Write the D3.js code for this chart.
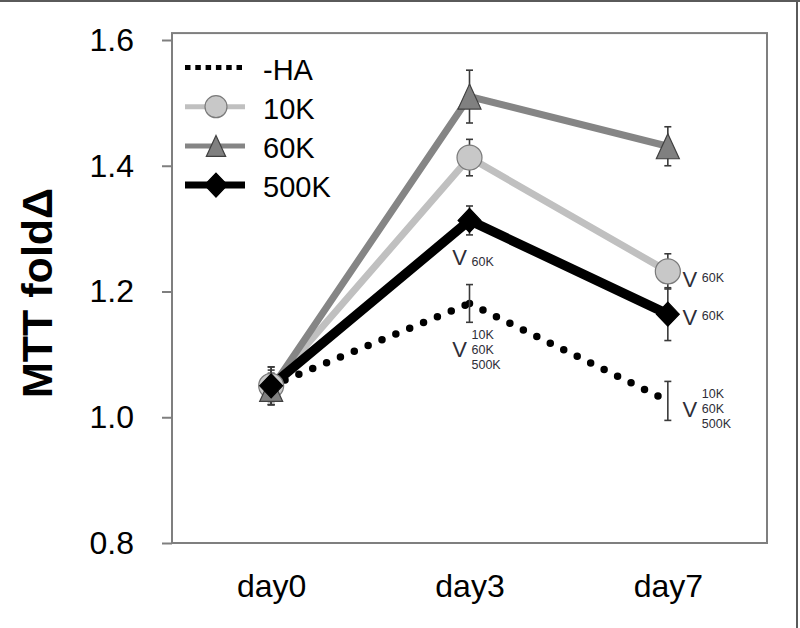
<!DOCTYPE html>
<html>
<head>
<meta charset="utf-8">
<script src="https://cdn.jsdelivr.net/npm/d3@7"></script>
<style>
  html, body { margin: 0; padding: 0; background: #fff; }
  svg { display: block; font-family: "Liberation Sans", Arial, sans-serif; }
</style>
</head>
<body>
<svg id="chart" width="800" height="628"></svg>
<script>
// ---------------- data ----------------
const days = ["day0", "day3", "day7"];
const yTicks = [0.8, 1.0, 1.2, 1.4, 1.6];
const seriesNames = ["-HA", "10K", "60K", "500K"];

const haValues   = [1.050, 1.181, 1.026];
const haErr      = [0.030, 0.030, 0.031];
const k10Values  = [1.050, 1.413, 1.232];
const k10Err     = [0.025, 0.029, 0.028];
const k60Values  = [1.045, 1.510, 1.431];
const k60Err     = [0.025, 0.042, 0.031];
const k500Values = [1.050, 1.313, 1.164];
const k500Err    = [0.030, 0.023, 0.042];

// significance annotations: "V" followed by group labels
const annotations = [
  { day: "day3", series: "500K", labels: ["60K"] },
  { day: "day3", series: "-HA",  labels: ["10K", "60K", "500K"] },
  { day: "day7", series: "10K",  labels: ["60K"] },
  { day: "day7", series: "500K", labels: ["60K"] },
  { day: "day7", series: "-HA",  labels: ["10K", "60K", "500K"] }
];

// ---------------- build series ----------------
const valuesBy = { "-HA": haValues, "10K": k10Values, "60K": k60Values, "500K": k500Values };
const errBy    = { "-HA": haErr,    "10K": k10Err,    "60K": k60Err,    "500K": k500Err };
const series = seriesNames.map(name => ({
  name,
  points: days.map((d, i) => ({ day: d, value: valuesBy[name][i], err: errBy[name][i] }))
}));

// ---------------- styles ----------------
const style = {
  "-HA":  { line: "#000", width: 7.5, dotted: true },
  "10K":  { line: "#c0c0c0", width: 7, marker: "circle", fill: "#c8c8c8", stroke: "#7a7a7a" },
  "60K":  { line: "#858585", width: 7, marker: "triangle", fill: "#808080", stroke: "#404040" },
  "500K": { line: "#000", width: 9.5, marker: "diamond", fill: "#000", stroke: "#000" }
};

const svg = d3.select("#chart");
const W = 800, H = 628;

const x = d3.scalePoint().domain(days).range([172, 767]).padding(0.5);
const y = d3.scaleLinear().domain([0.8, 1.6]).range([543, 40]);

// outer border (top & right)
svg.append("line").attr("x1", 0).attr("x2", W).attr("y1", 1).attr("y2", 1)
  .attr("stroke", "#5a5a5a").attr("stroke-width", 2);
svg.append("line").attr("x1", 797).attr("x2", 797).attr("y1", 0).attr("y2", H)
  .attr("stroke", "#5a5a5a").attr("stroke-width", 2);

// plot frame
const [xl, xr] = x.range();
svg.append("rect")
  .attr("x", xl).attr("y", y(1.611))
  .attr("width", xr - xl).attr("height", y(0.8) - y(1.611))
  .attr("fill", "none").attr("stroke", "#7f7f7f").attr("stroke-width", 2);

// y axis
const yAxis = svg.append("g")
  .attr("transform", `translate(${xl},0)`)
  .call(d3.axisLeft(y).tickValues(yTicks).tickSize(10).tickPadding(28).tickFormat(d3.format(".1f")));
yAxis.select(".domain").remove();
yAxis.selectAll(".tick line").attr("stroke", "#7f7f7f").attr("stroke-width", 2);
yAxis.selectAll(".tick text").attr("font-size", 32).attr("fill", "#000")
  .attr("font-family", "'Liberation Sans', Arial, sans-serif");

// x axis
const xAxis = svg.append("g")
  .attr("transform", `translate(0,${y(0.8)})`)
  .call(d3.axisBottom(x).tickSize(0).tickPadding(31));
xAxis.select(".domain").remove();
xAxis.selectAll(".tick text").attr("font-size", 32).attr("fill", "#000")
  .attr("font-family", "'Liberation Sans', Arial, sans-serif");

// y title
svg.append("text")
  .attr("transform", "translate(52,293) rotate(-90)")
  .attr("text-anchor", "middle")
  .attr("font-size", 43).attr("font-weight", "bold").attr("fill", "#000")
  .text("MTT fold\u0394");

// marker paths
function markerPath(type, s) {
  if (type === "circle") {
    return d3.symbol().type(d3.symbolCircle).size(Math.PI * s * s)();
  }
  if (type === "triangle") {
    const hw = s * 0.92, hh = s;
    return `M0,${-hh}L${hw},${hh}L${-hw},${hh}Z`;
  }
  if (type === "diamond") {
    const hw = s * 0.95, hh = s;
    return `M0,${-hh}L${hw},0L0,${hh}L${-hw},0Z`;
  }
}
const markerSize = { circle: 12.5, triangle: 12.5, diamond: 12 };

const line = d3.line().x(d => x(d.day)).y(d => y(d.value));
const plot = svg.append("g");

// lines
series.forEach(s => {
  const st = style[s.name];
  if (st.dotted) {
    // draw each segment separately so a dot sits on every data point
    d3.pairs(s.points).forEach(pair => {
      plot.append("path").attr("d", line(pair))
        .attr("fill", "none").attr("stroke", st.line).attr("stroke-width", st.width)
        .attr("stroke-linecap", "round").attr("stroke-dasharray", "0,15");
    });
  } else {
    plot.append("path").attr("d", line(s.points))
      .attr("fill", "none").attr("stroke", st.line).attr("stroke-width", st.width)
      .attr("stroke-linejoin", "miter");
  }
});

// error bars
series.forEach(s => {
  s.points.forEach(p => {
    const cx = x(p.day), y1 = y(p.value + p.err), y2 = y(p.value - p.err);
    const g = plot.append("g").attr("stroke", "#3a3a3a").attr("stroke-width", 1.6);
    g.append("line").attr("x1", cx).attr("x2", cx).attr("y1", y1).attr("y2", y2);
    g.append("line").attr("x1", cx - 3.5).attr("x2", cx + 3.5).attr("y1", y1).attr("y2", y1);
    g.append("line").attr("x1", cx - 3.5).attr("x2", cx + 3.5).attr("y1", y2).attr("y2", y2);
  });
});

// markers
series.forEach(s => {
  const st = style[s.name];
  if (!st.marker) return;
  s.points.forEach(p => {
    plot.append("path")
      .attr("d", markerPath(st.marker, markerSize[st.marker]))
      .attr("transform", `translate(${x(p.day)},${y(p.value)})`)
      .attr("fill", st.fill).attr("stroke", st.stroke).attr("stroke-width", 1.2);
  });
});

// annotations
const annColor = "#2e2e38";
function placeAnnotation(a) {
  const s = series.find(d => d.name === a.series);
  const p = s.points.find(d => d.day === a.day);
  const px = x(p.day), py = y(p.value);
  const multi = a.labels.length > 1;
  let vx, vy, lx, lMid;
  if (a.day === "day3") {        // below the point
    vx = px - 10; vy = py + (multi ? 54 : 44.5);
    lx = px + 2;  lMid = vy + (multi ? -3 : 1);
  } else {                       // to the right of the point
    vx = px + 22; vy = py + (multi ? 16 : (a.series === "10K" ? 16 : 11));
    lx = px + 34; lMid = vy + (multi ? -4 : -5.5);
  }
  const g = svg.append("g").attr("fill", annColor);
  g.append("text").attr("x", vx).attr("y", vy).attr("text-anchor", "middle")
    .attr("font-size", 22).text("V");
  const n = a.labels.length;
  a.labels.forEach((lab, i) => {
    g.append("text").attr("x", lx).attr("y", lMid + (i - (n - 1) / 2) * 15)
      .attr("font-size", 12.5).text(lab);
  });
}
annotations.forEach(placeAnnotation);

// legend
const legend = svg.append("g");
const legX0 = 185, legX1 = 245, legMid = 216, legTextX = 263;
seriesNames.forEach((name, i) => {
  const st = style[name];
  const ly = 67.5 + i * 39.2;
  const row = legend.append("g");
  if (st.dotted) {
    row.append("line").attr("x1", legX0).attr("x2", legX0 + 57).attr("y1", ly).attr("y2", ly)
      .attr("stroke", "#000").attr("stroke-width", 5).attr("stroke-dasharray", "5.5,4.8");
  } else {
    row.append("line").attr("x1", legX0).attr("x2", legX1).attr("y1", ly).attr("y2", ly)
      .attr("stroke", st.line).attr("stroke-width", name === "500K" ? 7 : 5);
    const ms = st.marker === "circle" ? 11 : (st.marker === "triangle" ? 10.5 : 12);
    row.append("path").attr("d", markerPath(st.marker, ms))
      .attr("transform", `translate(${legMid},${ly})`)
      .attr("fill", st.fill).attr("stroke", st.stroke).attr("stroke-width", 1.2);
  }
  row.append("text").attr("x", legTextX).attr("y", ly + 2).attr("dy", "0.35em")
    .attr("font-size", 29).attr("fill", "#000").text(name);
});
</script>
</body>
</html>
